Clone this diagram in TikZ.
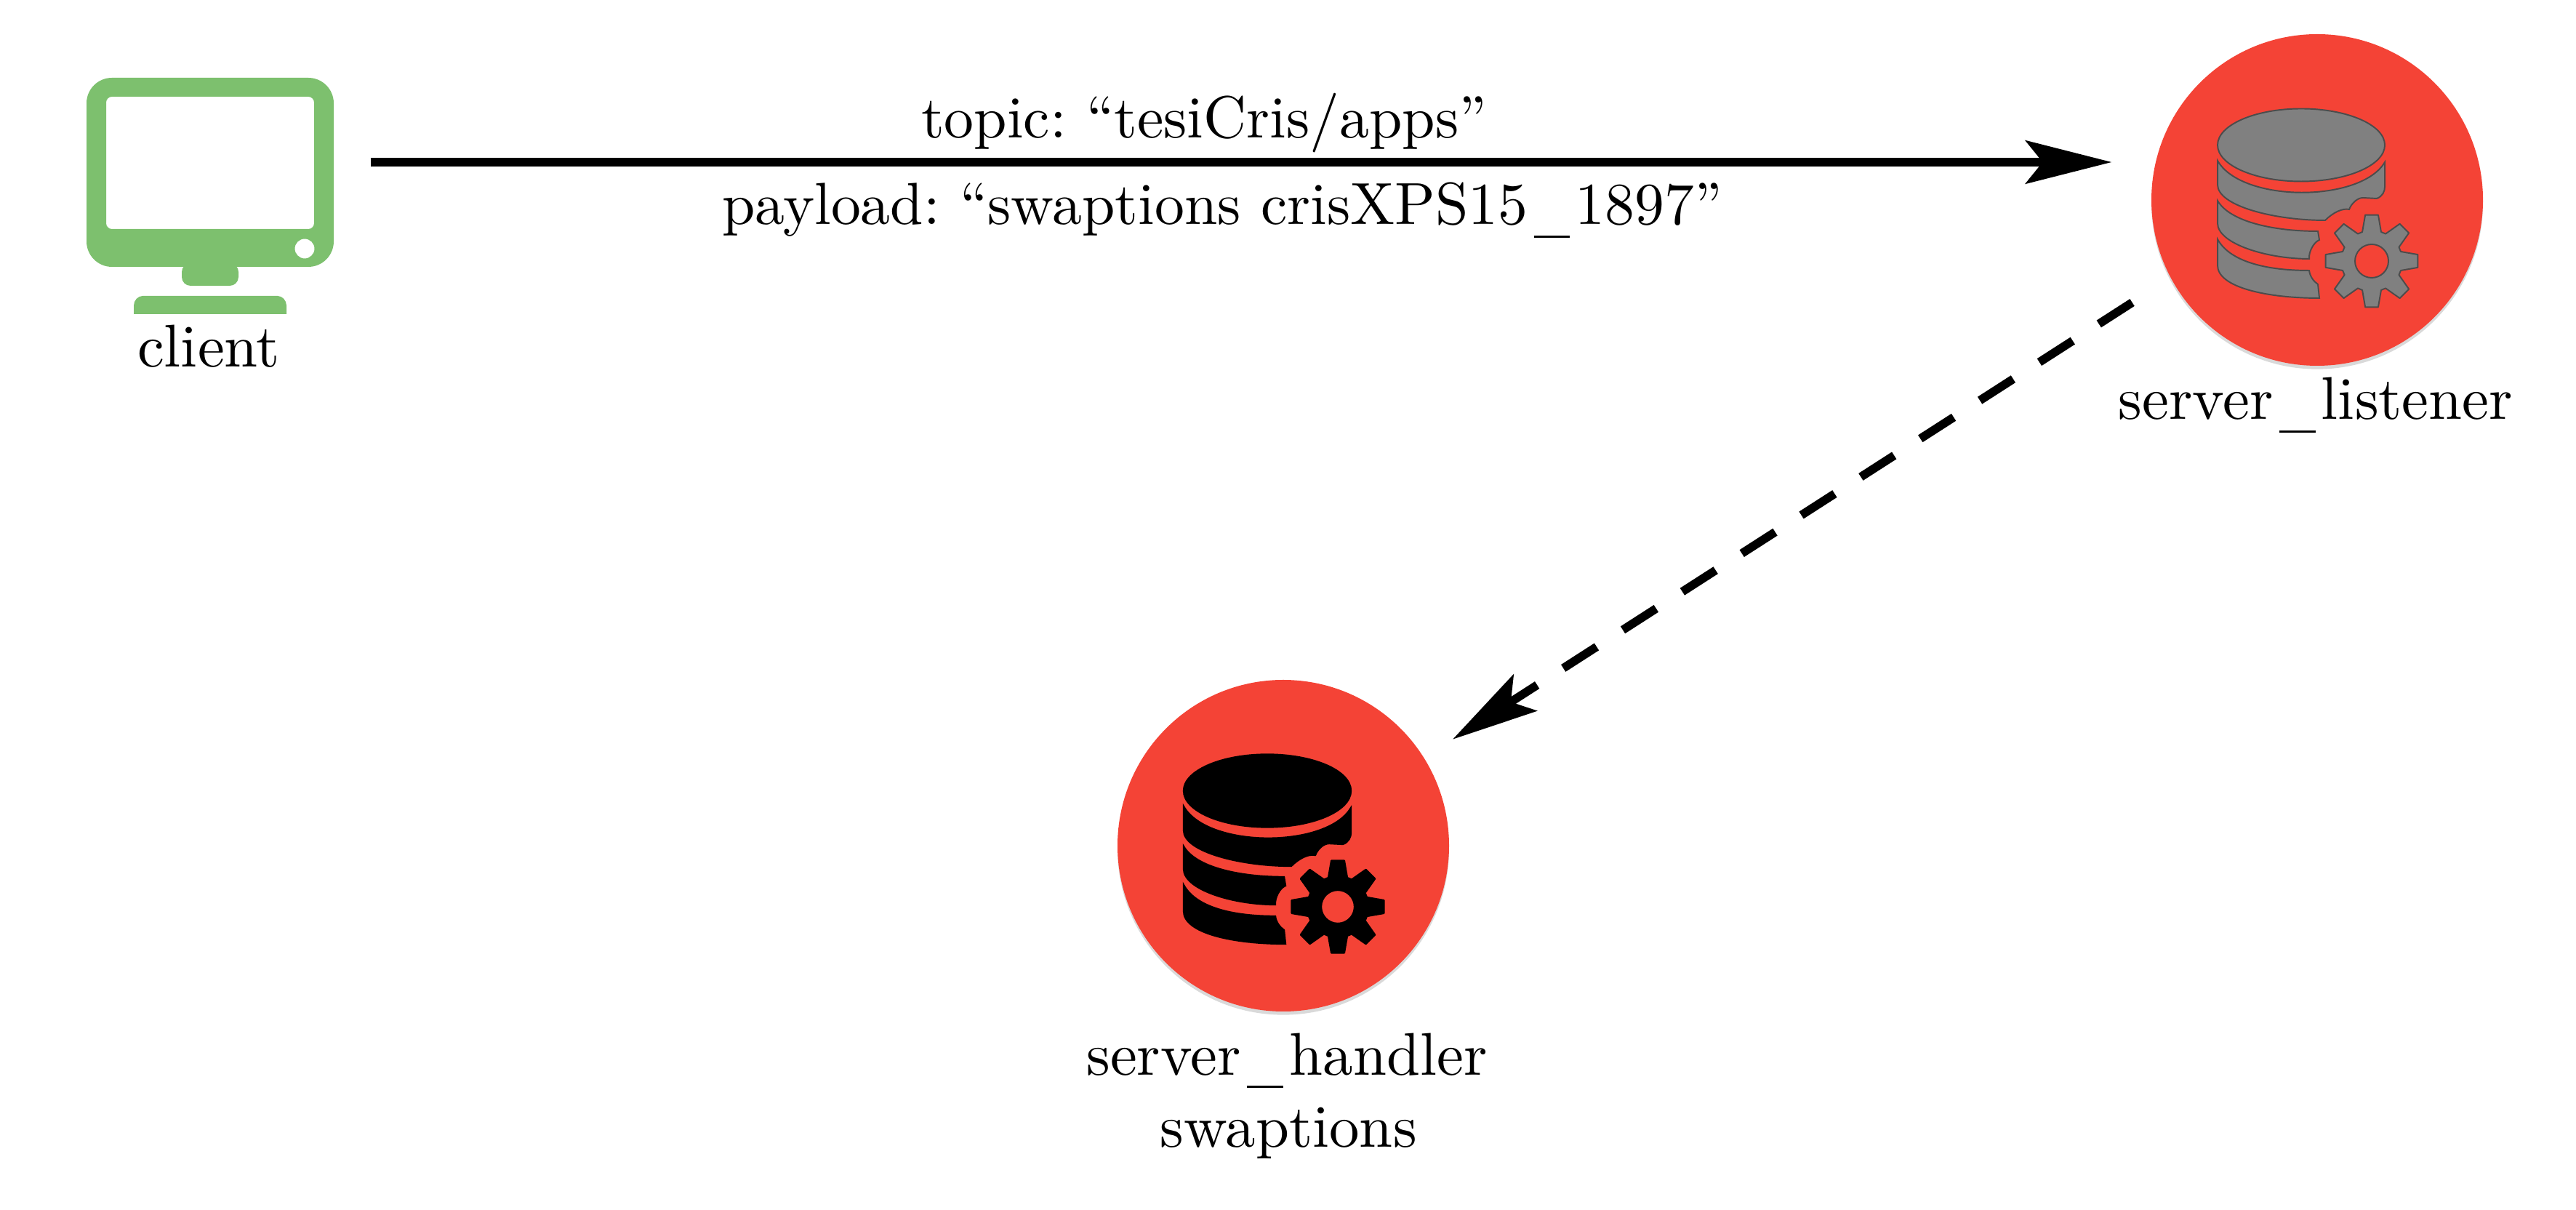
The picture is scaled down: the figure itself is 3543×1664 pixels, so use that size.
\documentclass[tikz,border=0pt]{standalone}
\usepackage{tikz}
\usetikzlibrary{arrows.meta,shadows}
\definecolor{clientgreen}{HTML}{7DC06E}
\definecolor{serverred}{HTML}{F44336}
\def\px{0.12848pt}
\newcommand{\usbar}{\kern1pt\rule[-2.2pt]{6pt}{.4pt}\kern1pt}
\tikzset{
	msgarrow/.style={line width=1.5pt,-{Stealth[length=15.2pt,width=7.6pt,inset=3pt]}},
	server/.style={circle,fill=serverred,inner sep=0pt,minimum size=456*\px,drop shadow={shadow xshift=0pt,shadow yshift=-.6pt,opacity=.15,fill=black}},
	labeltext/.style={anchor=base,inner sep=0pt,scale=1.065,font=\frenchspacing},
	msgtext/.style={anchor=base,inner sep=0pt,scale=1.05,font=\frenchspacing},
	iconlistener/.style={fill=gray,draw=black!70,line width=.25pt},
	iconhandler/.style={fill=black,draw=black,line width=.3pt},
	pics/dbicon/.style={code={
		\path[#1] (-22,75.5) ellipse (115 and 50);
		\path[#1] (-137,54) -- (-137,21) .. controls (-137,-8) and (-60,-28) .. (11,-28)
			.. controls (22,-17) and (35,-11) .. (44,-13) .. controls (47,-5) and (55,3) .. (63,3)
			-- (82,2) .. controls (90,5) and (93,12) .. (93,18) -- (93,52)
			.. controls (60,-4) and (-104,-4) .. cycle;
		\path[#1] (-137,-1) -- (-137,-32) .. controls (-137,-60) and (-70,-81) .. (-11,-81)
			.. controls (-12,-72) and (-5,-58) .. (3,-55) -- (1,-43)
			.. controls (-60,-43) and (-120,-30) .. cycle;
		\path[#1] (-137,-54) -- (-137,-90) .. controls (-137,-120) and (-70,-135) .. (3,-135)
			-- (1,-116) .. controls (-5,-112) and (-10,-105) .. (-11,-97)
			.. controls (-70,-97) and (-120,-85) .. cycle;
		\path[#1,even odd rule,line join=round,shift={(75,-84)}] (-18:42)
			\foreach \a in {0,45,...,315} { -- (\a-18:42) -- (\a-8:64) -- (\a+8:64) -- (\a+18:42) } -- cycle
			(0,0) circle (23);
	}}
}
\begin{document}
\begin{tikzpicture}[x=\px,y=\px]
	\useasboundingbox (0,0) rectangle (3543,1664);
	% monitor
	\node[minimum width=340*\px,minimum height=260*\px,inner sep=0pt] (client) at (289,1427) {};
	\fill[clientgreen,even odd rule,shift={(client.center)}]
		[rounded corners=35*\px] (-170,-130) rectangle (170,130)
		[rounded corners=8*\px] (-143,-78) rectangle (143,104)
		[sharp corners] (130,-105) circle (13.5);
	\fill[clientgreen,shift={(client.center)}] [rounded corners=12*\px] (-39,-125) -- (-39,-156) -- (39,-156) -- (39,-125) -- cycle;
	\fill[clientgreen,shift={(client.center)}] (-105,-195) -- (-105,-183) .. controls (-105,-176) and (-99,-170) .. (-93,-170)
		-- (93,-170) .. controls (99,-170) and (105,-176) .. (105,-183) -- (105,-195) -- cycle;
	\node[labeltext] (clientlabel) at (287,1159) {client};
	% servers
	\node[server] (listener) at (3187,1389) {};
	\pic at (listener) {dbicon=iconlistener};
	\node[labeltext] (listenerlabel) at (3185,1087) {server\usbar listener};
	\node[server] (handler) at (1765,501) {};
	\pic at (handler) {dbicon=iconhandler};
	\node[labeltext] (handlerlabel) at (1770,186) {server\usbar handler};
	\node[labeltext] (swaptionslabel) at (1772,87) {swaptions};
	% messages
	\coordinate (msgline) at (0,1441);
	\draw[msgarrow,shorten <=49*\px,shorten >=53*\px] (client.east |- msgline) -- (listener.west |- msgline);
	\node[msgtext] (topiclabel) at (1656,1474) {topic: ``tesiCris/apps''};
	\node[msgtext] (payloadlabel) at (1681,1355) {payload: ``swaptions crisXPS15\usbar 1897''};
	\draw[msgarrow,dash pattern=on 7pt off 5.5pt,shorten <=61.5*\px,shorten >=45.5*\px] (listener.208.25) -- (handler.32.8);
\end{tikzpicture}
\end{document}
